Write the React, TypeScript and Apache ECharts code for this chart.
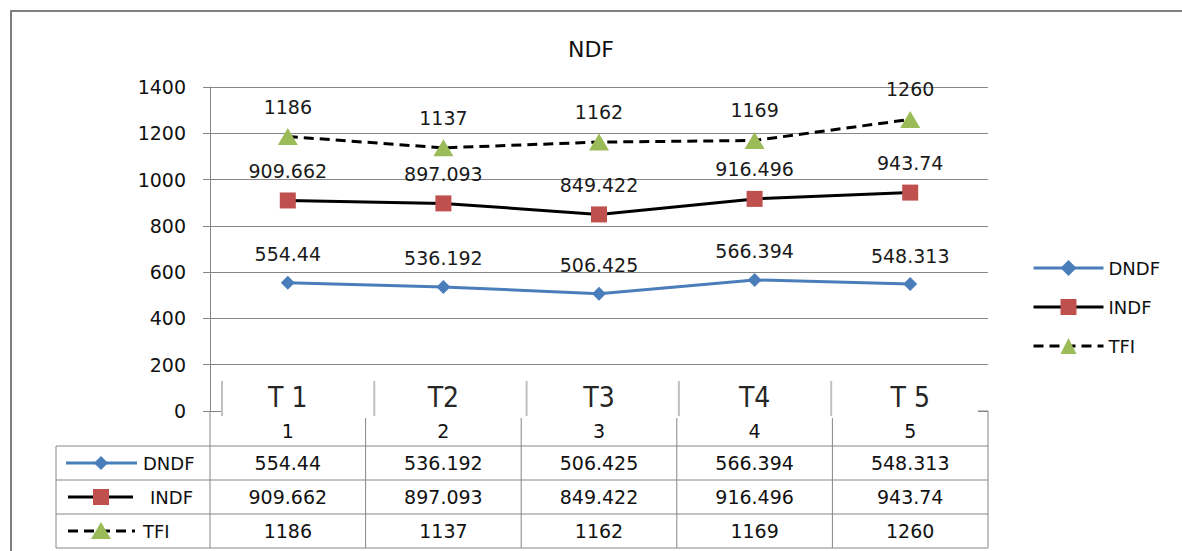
import React, { useEffect, useRef } from 'react';
import * as echarts from 'echarts';

const categories = ['1', '2', '3', '4', '5'];
const tLabels = ['T 1', 'T2', 'T3', 'T4', 'T 5'];
const seriesNames = ['DNDF', 'INDF', 'TFI'];
const dndf = [554.44, 536.192, 506.425, 566.394, 548.313];
const indf = [909.662, 897.093, 849.422, 916.496, 943.74];
const tfi = [1186, 1137, 1162, 1169, 1260];
const yMin = 0;
const yMax = 1400;
const yStep = 200;

const FONT = "'DejaVu Sans', Verdana, sans-serif";
const NARROW = "'Liberation Sans Narrow', 'DejaVu Sans Condensed', 'Liberation Sans', sans-serif";
const GRID = { left: 210, right: 194, top: 87, bottom: 140 };
const GREY = '#868686';
const BLUE = '#4a7ebb';
const RED = '#c0504d';
const GREEN = '#9bbb59';

export default function App() {
  const ref = useRef<HTMLDivElement>(null);
  useEffect(() => {
    if (!ref.current) return;
    const chart = echarts.init(ref.current, undefined, { renderer: 'svg' });
    const label = {
      show: true,
      position: 'top',
      distance: 12,
      fontSize: 19,
      fontFamily: FONT,
      color: '#1a1a1a',
    };
    const option: any = {
      animation: false,
      backgroundColor: '#ffffff',
      title: {
        text: 'NDF',
        left: 'center',
        top: 33,
        textStyle: { fontSize: 22, fontWeight: 'normal', fontFamily: FONT, color: '#111' },
      },
      legend: {
        orient: 'vertical',
        left: 1032,
        top: 259,
        itemWidth: 70,
        itemHeight: 20,
        itemGap: 21,
        padding: 0,
        data: seriesNames,
        lineStyle: { width: 3 },
        textStyle: { fontSize: 18, fontFamily: FONT, color: '#111' },
      },
      grid: { ...GRID },
      xAxis: {
        type: 'category',
        data: categories,
        boundaryGap: true,
        axisLine: { show: false },
        axisTick: { show: false },
        axisLabel: { fontSize: 19, fontFamily: FONT, color: '#111', margin: 10 },
      },
      yAxis: {
        type: 'value',
        min: yMin,
        max: yMax,
        interval: yStep,
        axisLine: { show: true, lineStyle: { color: GREY, width: 1 } },
        axisTick: { show: true, length: 7, lineStyle: { color: GREY } },
        axisLabel: { fontSize: 19, fontFamily: FONT, color: '#111', margin: 24, formatter: (v: number) => String(v) },
        splitLine: { show: true, lineStyle: { color: GREY, width: 1 } },
      },
      series: [
        {
          name: 'DNDF',
          type: 'line',
          data: dndf,
          symbol: 'diamond',
          symbolSize: 14,
          lineStyle: { color: BLUE, width: 3 },
          itemStyle: { color: BLUE },
          label,
        },
        {
          name: 'INDF',
          type: 'line',
          data: indf,
          symbol: 'rect',
          symbolSize: 16,
          lineStyle: { color: '#000', width: 3 },
          itemStyle: { color: RED },
          label,
        },
        {
          name: 'TFI',
          type: 'line',
          data: tfi,
          symbol: 'triangle',
          symbolSize: [20, 17],
          lineStyle: { color: '#000', width: 3, type: [10, 6] },
          itemStyle: { color: GREEN },
          label,
        },
      ],
    };
    chart.setOption(option);

    const cx = categories.map((_, i) => chart.convertToPixel({ xAxisIndex: 0 }, i) as number);
    const y0 = chart.convertToPixel({ yAxisIndex: 0 }, 0) as number;
    const band = cx[1] - cx[0];
    const left = cx[0] - band / 2;
    const right = cx[cx.length - 1] + band / 2;
    const tableLeft = left - 154;
    const headerBottom = y0 + 35;
    const rowH = 34;
    const rows = [dndf, indf, tfi];
    const tableBottom = headerBottom + rowH * rows.length;

    const els: any[] = [];
    const line = (x1: number, y1: number, x2: number, y2: number, stroke = GREY, lineWidth = 1, extra: any = {}) =>
      els.push({ type: 'line', z: 5, shape: { x1, y1, x2, y2 }, style: { stroke, lineWidth, ...extra } });

    // outer chart border
    els.push({ type: 'rect', z: 5, shape: { x: 11, y: 11, width: 1400, height: 800 }, style: { fill: 'none', stroke: '#7f7f7f', lineWidth: 2 } });

    // pasted treatment-label strip
    els.push({ type: 'rect', z: 1, shape: { x: left + 12, y: y0 - 38, width: right - 10 - (left + 12), height: 43 }, style: { fill: '#ffffff' } });
    for (let i = 0; i < categories.length; i++) {
      const sx = left + i * band + 12 - 3.3 * i;
      els.push({ type: 'line', z: 1, shape: { x1: sx, y1: y0 - 30, x2: sx, y2: y0 + 5 }, style: { stroke: '#c0c0c0', lineWidth: 2 } });
      els.push({
        type: 'text', z: 1, x: cx[i], y: y0 - 14,
        style: { text: tLabels[i], fontSize: 28, fontFamily: NARROW, fill: '#262626', align: 'center', verticalAlign: 'middle' },
      });
    }

    // data table grid
    line(left, y0, left, tableBottom);
    for (let i = 1; i < categories.length; i++) line(left + i * band, y0 + 7, left + i * band, tableBottom);
    line(right, y0, right, tableBottom);
    line(right - 10, y0, right, y0);
    line(tableLeft, headerBottom, tableLeft, tableBottom);
    for (let r = 0; r <= rows.length; r++) line(tableLeft, headerBottom + r * rowH, right, headerBottom + r * rowH);

    rows.forEach((vals, r) => {
      const cy = headerBottom + r * rowH + rowH / 2;
      vals.forEach((v, i) => {
        els.push({
          type: 'text', z: 5, x: cx[i], y: cy,
          style: { text: String(v), fontSize: 19, fontFamily: FONT, fill: '#111', align: 'center', verticalAlign: 'middle' },
        });
      });
      const mx = tableLeft + 45;
      if (r === 0) {
        line(tableLeft + 10, cy, tableLeft + 81, cy, BLUE, 3);
        els.push({ type: 'polygon', z: 5, shape: { points: [[mx, cy - 7], [mx + 7, cy], [mx, cy + 7], [mx - 7, cy]] }, style: { fill: BLUE } });
      } else if (r === 1) {
        line(tableLeft + 12, cy, tableLeft + 77, cy, '#000', 3);
        els.push({ type: 'rect', z: 5, shape: { x: mx - 8, y: cy - 8, width: 16, height: 16 }, style: { fill: RED } });
      } else {
        line(tableLeft + 12, cy, tableLeft + 79, cy, '#000', 3, { lineDash: [10, 6] });
        els.push({ type: 'polygon', z: 5, shape: { points: [[mx, cy - 9], [mx + 10, cy + 8], [mx - 10, cy + 8]] }, style: { fill: GREEN } });
      }
      els.push({
        type: 'text', z: 5, x: tableLeft + (r === 1 ? 94 : 87), y: cy,
        style: { text: seriesNames[r], fontSize: 18, fontFamily: FONT, fill: '#111', align: 'left', verticalAlign: 'middle' },
      });
    });

    chart.setOption({ graphic: { elements: els } });
    return () => chart.dispose();
  }, []);
  return <div ref={ref} style={{ position: 'absolute', left: 0, top: 0, width: 1182, height: 551 }} />;
}
